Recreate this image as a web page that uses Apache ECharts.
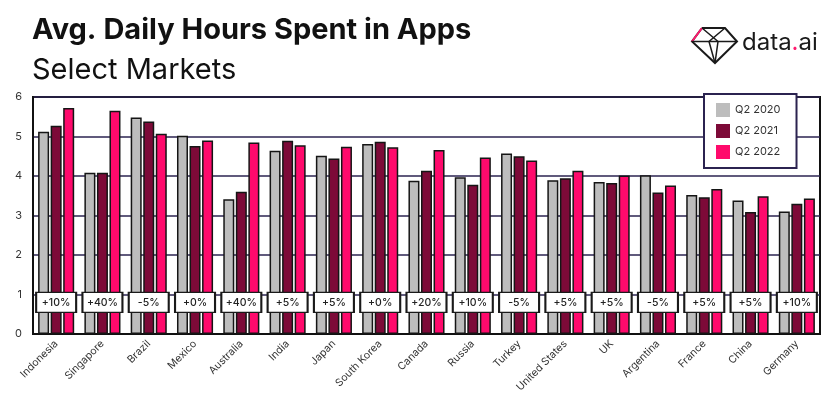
<!DOCTYPE html>
<html>
<head>
<meta charset="utf-8">
<script src="https://cdn.jsdelivr.net/npm/echarts@6/dist/echarts.min.js"></script>
<style>html,body{margin:0;padding:0;background:#fff}#c{width:836px;height:399px}</style>
</head>
<body>
<div id="c"></div>
<script>
const markets = ['Indonesia','Singapore','Brazil','Mexico','Australia','India','Japan','South Korea','Canada','Russia','Turkey','United States','UK','Argentina','France','China','Germany'];
const q2_2020 = [5.12,4.08,5.48,5.02,3.41,4.64,4.51,4.81,3.88,3.97,4.57,3.89,3.85,4.02,3.52,3.38,3.10];
const q2_2021 = [5.27,4.08,5.38,4.76,3.60,4.89,4.44,4.87,4.13,3.78,4.50,3.94,3.82,3.58,3.46,3.09,3.30];
const q2_2022 = [5.72,5.65,5.07,4.90,4.85,4.78,4.74,4.73,4.66,4.47,4.39,4.13,4.01,3.76,3.67,3.49,3.43];
const growth = ['+10%','+40%','-5%','+0%','+40%','+5%','+5%','+0%','+20%','+10%','-5%','+5%','+5%','-5%','+5%','+5%','+10%'];
const yTicks = [0,1,2,3,4,5,6];
const labelLevel = 0.8;

const FONT = 'Inter';
const chart = echarts.init(document.getElementById('c'), null, {renderer:'canvas'});
const barBorder = {borderColor:'#151515', borderWidth:1.5};
chart.setOption({
  animation:false,
  backgroundColor:'#ffffff',
  textStyle:{fontFamily:FONT},
  title:[
    {text:'Avg. Daily Hours Spent in Apps', left:27, top:11, textStyle:{fontFamily:FONT, fontSize:29, fontWeight:'bold', color:'#111'}},
    {text:'Select Markets', left:27, top:51, textStyle:{fontFamily:FONT, fontSize:29, fontWeight:'normal', color:'#111'}}
  ],
  graphic:[
    {type:'polyline', shape:{points:[[702,28],[725,28],[737,41.5],[715,63],[692,41.5],[702,28]]}, style:{stroke:'#1a1a1a', lineWidth:2, fill:null}},
    {type:'polyline', shape:{points:[[692,41.5],[702,28]]}, style:{stroke:'#ff1a6e', lineWidth:2, fill:null}},
    {type:'polyline', shape:{points:[[692,41.5],[737,41.5]]}, style:{stroke:'#1a1a1a', lineWidth:1.5, fill:null}},
    {type:'polyline', shape:{points:[[702,28],[718,41.5],[715,63]]}, style:{stroke:'#1a1a1a', lineWidth:1.5, fill:null}},
    {type:'polyline', shape:{points:[[725,28],[709,41.5],[715,63]]}, style:{stroke:'#1a1a1a', lineWidth:1.5, fill:null}},
    {type:'text', left:742, top:31, style:{text:'data{d|.}ai', rich:{d:{fill:'#ff1a6e', fontSize:24, fontFamily:FONT}}, fill:'#1a1a1a', fontSize:24, fontFamily:FONT}}
  ],
  legend:{
    data:['Q2 2020','Q2 2021','Q2 2022'],
    orient:'vertical', left:704, top:94,
    backgroundColor:'#ffffff', borderColor:'#2b2350', borderWidth:2, borderRadius:0,
    padding:[9,16,9,12], itemWidth:14, itemHeight:14, itemGap:7, icon:'rect',
    itemStyle:{borderWidth:0},
    textStyle:{fontFamily:FONT, fontSize:11, color:'#333'}
  },
  grid:{left:33, right:16, top:97, bottom:65, show:true, borderColor:'#111', borderWidth:2, backgroundColor:'transparent'},
  xAxis:{
    type:'category', data:markets,
    axisLine:{lineStyle:{color:'#111', width:2}}, axisTick:{show:false},
    axisLabel:{rotate:45, fontSize:10.5, color:'#333', margin:8, fontFamily:FONT, interval:0}
  },
  yAxis:{
    type:'value', min:yTicks[0], max:yTicks[yTicks.length-1], interval:1,
    axisLine:{show:true, lineStyle:{color:'#111', width:2}}, axisTick:{show:false},
    axisLabel:{fontSize:11, color:'#333', margin:11, fontFamily:FONT},
    splitLine:{lineStyle:{color:'#2b2350', width:1.5}}
  },
  series:[
    {name:'Q2 2020', type:'bar', data:q2_2020, barWidth:11, barGap:'14%', itemStyle:Object.assign({color:'#bdbdbd'}, barBorder)},
    {name:'Q2 2021', type:'bar', data:q2_2021, barWidth:11, barGap:'14%', itemStyle:Object.assign({color:'#7d0a38'}, barBorder)},
    {name:'Q2 2022', type:'bar', data:q2_2022, barWidth:11, barGap:'14%', itemStyle:Object.assign({color:'#ff0a6c'}, barBorder)},
    {name:'growth', type:'scatter', z:5, data:growth.map((g,i)=>({value:labelLevel, name:g})),
     symbol:'rect', symbolSize:[40,20],
     itemStyle:{color:'#ffffff', borderColor:'#1a1a1a', borderWidth:1.5, opacity:1},
     label:{show:true, position:'inside', formatter:p=>p.name, fontSize:10.5, fontWeight:500, color:'#222', fontFamily:FONT},
     emphasis:{disabled:true}, silent:true}
  ]
});
</script>
</body>
</html>
